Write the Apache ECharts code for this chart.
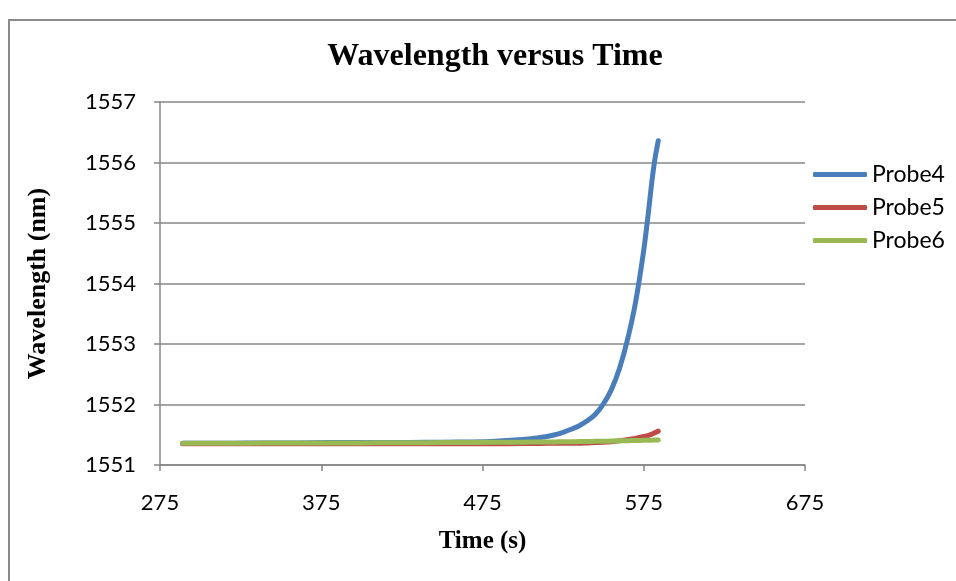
<!DOCTYPE html>
<html>
<head>
<meta charset="utf-8">
<script src="https://cdn.jsdelivr.net/npm/echarts@6/dist/echarts.min.js"></script>
<style>
  html, body { margin: 0; padding: 0; background: #fff; }
  #chart { width: 956px; height: 581px; }
</style>
</head>
<body>
<div id="chart"></div>
<script>
// Sample times (s)
const times = [289, 300, 320, 340, 360, 380, 400, 420, 440, 460, 480, 500, 510, 520, 525, 530, 535, 540, 545, 550, 555, 560, 565, 570, 575, 578, 580, 582, 584];

// Wavelength readings (nm) per probe
const probe4 = [1551.36, 1551.36, 1551.36, 1551.365, 1551.365, 1551.37, 1551.37, 1551.37, 1551.375, 1551.38, 1551.39, 1551.42, 1551.45, 1551.50, 1551.54, 1551.59, 1551.65, 1551.73, 1551.84, 1552.01, 1552.25, 1552.60, 1553.08, 1553.70, 1554.55, 1555.20, 1555.68, 1556.07, 1556.36];
const probe5 = [1551.35, 1551.35, 1551.35, 1551.35, 1551.35, 1551.35, 1551.35, 1551.35, 1551.35, 1551.35, 1551.35, 1551.355, 1551.355, 1551.36, 1551.36, 1551.36, 1551.36, 1551.365, 1551.37, 1551.375, 1551.385, 1551.40, 1551.42, 1551.44, 1551.47, 1551.49, 1551.51, 1551.535, 1551.56];
const probe6 = [1551.36, 1551.36, 1551.36, 1551.362, 1551.363, 1551.364, 1551.365, 1551.367, 1551.369, 1551.371, 1551.374, 1551.378, 1551.38, 1551.382, 1551.384, 1551.385, 1551.387, 1551.389, 1551.391, 1551.393, 1551.396, 1551.399, 1551.402, 1551.405, 1551.408, 1551.41, 1551.411, 1551.412, 1551.413];

const seriesNames = ['Probe4', 'Probe5', 'Probe6'];
const seriesColors = ['#4A7EBB', '#BE4B48', '#98B954'];
const xTicks = [275, 375, 475, 575, 675];

const pair = (vals) => times.map((t, i) => [t, vals[i]]);

const chart = echarts.init(document.getElementById('chart'), null, { renderer: 'canvas' });

const axisGray = '#878787';
const labelFont = 'Lato, "Open Sans", sans-serif';
const serifFont = '"Liberation Serif", "Times New Roman", serif';

chart.setOption({
  backgroundColor: '#ffffff',
  animation: false,
  title: {
    text: 'Wavelength versus Time',
    left: 490,
    textAlign: 'center',
    top: 36,
    textStyle: { fontFamily: serifFont, fontWeight: 'bold', fontSize: 32, color: '#000' }
  },
  graphic: [{
    type: 'rect',
    shape: { x: 9, y: 20, width: 1000, height: 600 },
    style: { fill: 'none', stroke: '#8a8a8a', lineWidth: 2 },
    silent: true,
    z: -1
  }],
  legend: {
    data: seriesNames,
    orient: 'vertical',
    left: 808,
    top: 158,
    itemWidth: 54,
    itemHeight: 5,
    itemGap: 10,
    icon: 'roundRect',
    textStyle: { fontFamily: labelFont, fontSize: 23, color: '#000', padding: [0, 0, 0, 0] }
  },
  grid: { left: 160, right: 151, top: 102, bottom: 116, containLabel: false },
  xAxis: {
    type: 'value',
    min: 275,
    max: 675,
    name: 'Time (s)',
    nameLocation: 'middle',
    nameGap: 64,
    nameTextStyle: { fontFamily: serifFont, fontWeight: 'bold', fontSize: 25, color: '#000' },
    axisLine: { onZero: false, lineStyle: { color: axisGray, width: 1.5 } },
    axisTick: { show: true, customValues: xTicks, length: 6, lineStyle: { color: axisGray, width: 1.5 } },
    axisLabel: { customValues: xTicks, fontFamily: labelFont, fontSize: 22, color: '#000', margin: 27 },
    splitLine: { show: false }
  },
  yAxis: {
    type: 'value',
    min: 1551,
    max: 1557,
    interval: 1,
    name: 'Wavelength (nm)',
    nameLocation: 'middle',
    nameGap: 109,
    nameRotate: 90,
    nameTextStyle: { fontFamily: serifFont, fontWeight: 'bold', fontSize: 26, color: '#000' },
    axisLine: { show: true, lineStyle: { color: axisGray, width: 1.5 } },
    axisTick: { show: true, length: 6, lineStyle: { color: axisGray, width: 1.5 } },
    axisLabel: {
      fontFamily: labelFont, fontSize: 22, color: '#000', margin: 24,
      formatter: (v) => String(v)
    },
    splitLine: { show: true, lineStyle: { color: axisGray, width: 1.5 } }
  },
  series: seriesNames.map((name, i) => ({
    name,
    type: 'line',
    data: pair([probe4, probe5, probe6][i]),
    showSymbol: false,
    smooth: 0.25,
    color: seriesColors[i],
    lineStyle: { width: 5, color: seriesColors[i], cap: 'round', join: 'round' },
    z: 2 + i
  }))
});
</script>
</body>
</html>
